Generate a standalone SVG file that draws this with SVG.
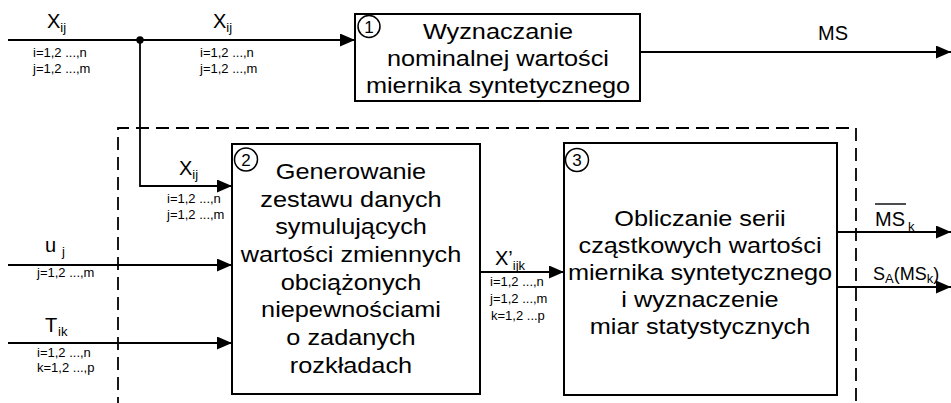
<svg xmlns="http://www.w3.org/2000/svg" width="951" height="403" viewBox="0 0 951 403">
<style>
.box{fill:#fff;stroke:#000;stroke-width:2}
.ln{fill:none;stroke:#000;stroke-width:1.8}
.dash{fill:none;stroke:#000;stroke-width:1.8;stroke-dasharray:13 7}
text{font-family:"Liberation Sans",Arial,Helvetica,sans-serif;fill:#000}
.big{font-size:22px;text-anchor:middle}
.sm{font-size:13px}
.lab{font-size:20px}
.lab2{font-size:18px}
.sub{font-size:13px}
.num{font-size:17px;text-anchor:middle}
.circ{fill:none;stroke:#000;stroke-width:1.5}
</style>
<defs>
<marker id="arr" markerUnits="userSpaceOnUse" markerWidth="15" markerHeight="13" refX="15" refY="6.5" orient="auto">
<path d="M0,0 L15,6.5 L0,13 z" fill="#000"/>
</marker>
</defs>
<rect width="951" height="403" fill="#fff"/>
<g id="boundary">
<path class="dash" d="M118,410 V128 H856 V410"/>
</g>
<g id="connectors">
<path class="ln" d="M8,40 H355" marker-end="url(#arr)"/>
<circle cx="140" cy="40" r="3.7" fill="#000"/>
<path class="ln" d="M140,40 V186 H232" marker-end="url(#arr)"/>
<path class="ln" d="M8,265 H232" marker-end="url(#arr)"/>
<path class="ln" d="M8,343 H232" marker-end="url(#arr)"/>
<path class="ln" d="M480,272 H564" marker-end="url(#arr)"/>
<path class="ln" d="M640,52 H951" marker-end="url(#arr)"/>
<path class="ln" d="M837,232 H951" marker-end="url(#arr)"/>
<path class="ln" d="M837,287 H951" marker-end="url(#arr)"/>
</g>
<g id="labels">
<text class="lab" x="47" y="28">X<tspan class="sub" dy="4">ij</tspan></text>
<text class="sm" x="33" y="57">i=1,2 ...,n</text>
<text class="sm" x="33" y="73">j=1,2 ...,m</text>
<text class="lab" x="213" y="28">X<tspan class="sub" dy="4">ij</tspan></text>
<text class="sm" x="200" y="57">i=1,2 ...,n</text>
<text class="sm" x="200" y="73">j=1,2 ...,m</text>
<text class="lab" x="179" y="175">X<tspan class="sub" dy="4">ij</tspan></text>
<text class="sm" x="167" y="203">i=1,2 ...,n</text>
<text class="sm" x="167" y="219">j=1,2 ...,m</text>
<text class="lab" x="45" y="252">u<tspan class="sub" x="62" dy="4">j</tspan></text>
<text class="sm" x="37" y="277">j=1,2 ...,m</text>
<text class="lab" x="45" y="332">T<tspan class="sub" x="58" dy="4">ik</tspan></text>
<text class="sm" x="37" y="357">i=1,2 ...,n</text>
<text class="sm" x="37" y="372">k=1,2 ...,p</text>
<text class="lab" x="495" y="265">X’<tspan class="sub" dy="5">ijk</tspan></text>
<text class="sm" x="490" y="286">i=1,2 ...,n</text>
<text class="sm" x="490" y="303">j=1,2 ...,m</text>
<text class="sm" x="491" y="320">k=1,2 ...p</text>
<text class="lab" x="818" y="40">MS</text>
<text class="lab" x="875" y="226">MS<tspan class="sub" x="908" dy="5">k</tspan></text>
<line x1="875" y1="204" x2="906" y2="204" stroke="#000" stroke-width="1.4"/>
<text class="lab2" x="873" y="280">S<tspan class="sub" dy="3">A</tspan><tspan dy="-3">(MS</tspan><tspan class="sub" dy="3">k</tspan><tspan dy="-3">)</tspan></text>
</g>
<g id="node1">
<rect class="box" x="355" y="14" width="285" height="87"/>
<circle class="circ" cx="369" cy="26.5" r="11"/>
<text class="num" x="369" y="32.5">1</text>
<g transform="translate(498 0) scale(1.15 1)">
<text class="big" x="0" y="39.5">Wyznaczanie</text>
<text class="big" x="0" y="66.5">nominalnej wartości</text>
<text class="big" x="0" y="93">miernika syntetycznego</text>
</g>
</g>
<g id="node2">
<rect class="box" x="232" y="144" width="248" height="250"/>
<circle class="circ" cx="246" cy="159.5" r="11.5"/>
<text class="num" x="246" y="165.5">2</text>
<g transform="translate(351 0) scale(1.15 1)">
<text class="big" x="0" y="179">Generowanie</text>
<text class="big" x="0" y="206.7">zestawu danych</text>
<text class="big" x="0" y="234.4">symulujących</text>
<text class="big" x="0" y="262">wartości zmiennych</text>
<text class="big" x="0" y="289.7">obciążonych</text>
<text class="big" x="0" y="317.4">niepewnościami</text>
<text class="big" x="0" y="345">o zadanych</text>
<text class="big" x="0" y="372.7">rozkładach</text>
</g>
</g>
<g id="node3">
<rect class="box" x="564" y="143" width="273" height="252"/>
<circle class="circ" cx="577" cy="160" r="11.5"/>
<text class="num" x="577" y="166">3</text>
<g transform="translate(700 0) scale(1.15 1)">
<text class="big" x="0" y="226">Obliczanie serii</text>
<text class="big" x="0" y="253">cząstkowych wartości</text>
<text class="big" x="0" y="280">miernika syntetycznego</text>
<text class="big" x="0" y="307">i wyznaczenie</text>
<text class="big" x="0" y="334">miar statystycznych</text>
</g>
</g>
</svg>
